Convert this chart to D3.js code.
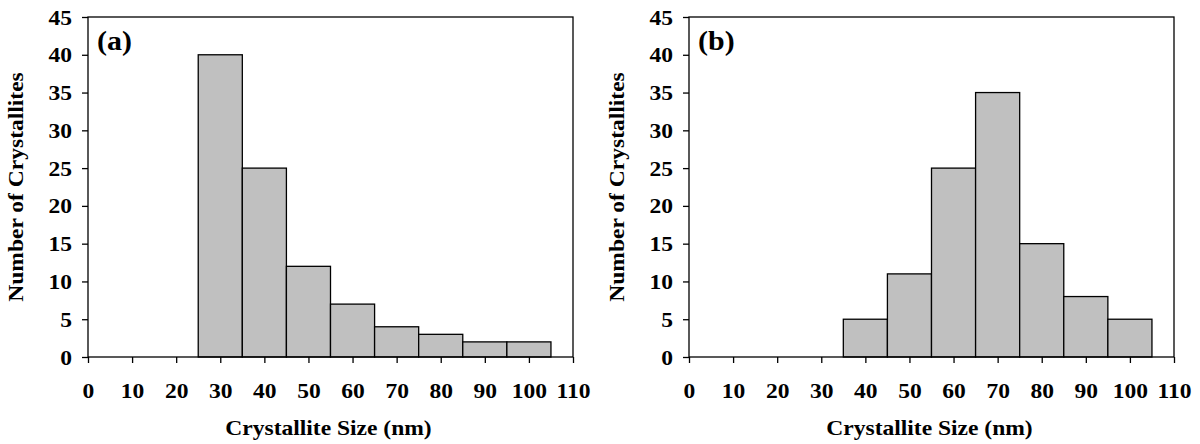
<!DOCTYPE html>
<html>
<head>
<meta charset="utf-8">
<script src="https://cdn.jsdelivr.net/npm/d3@7"></script>
<style>
    html, body { margin: 0; padding: 0; background: #fff; }
    svg text { font-family: "Liberation Serif", "Times New Roman", serif; font-weight: bold; fill: #000; }
    .domain { display: none; }
</style>
</head>
<body>
<svg id="chart" width="1200" height="444"></svg>
<script>
// bin centres (nm), bins are 10 nm wide
const binCenters = [30, 40, 50, 60, 70, 80, 90, 100];
const countsA = [40, 25, 12, 7, 4, 3, 2, 2];
const countsB = [0, 5, 11, 25, 35, 15, 8, 5];
const xTicks = [0, 10, 20, 30, 40, 50, 60, 70, 80, 90, 100, 110];
const yTicks = [0, 5, 10, 15, 20, 25, 30, 35, 40, 45];
const panelLabels = ['(a)', '(b)'];

const svg = d3.select('#chart');
const FONT = '22px';
const STRETCH = 1.07; // reference type is a little wider than Times

function drawPanel(left, counts, label) {
    const W = 485, TOP = 17, BOTTOM = 357;
    const g = svg.append('g');

    const x = d3.scaleLinear().domain([0, 110]).range([left, left + W]);
    const y = d3.scaleLinear().domain([0, 45]).range([BOTTOM, TOP]);

    // bars
    g.append('g').selectAll('rect')
        .data(binCenters.map((c, i) => ({ c, v: counts[i] })).filter(d => d.v > 0))
        .enter()
        .append('rect')
        .attr('x', d => x(d.c - 5))
        .attr('width', d => x(d.c + 5) - x(d.c - 5))
        .attr('y', d => y(d.v))
        .attr('height', d => y(0) - y(d.v))
        .attr('fill', '#c0c0c0')
        .attr('stroke', '#000')
        .attr('stroke-width', 1.3);

    // frame
    g.append('rect')
        .attr('x', x(0)).attr('y', y(45))
        .attr('width', x(110) - x(0)).attr('height', y(0) - y(45))
        .attr('fill', 'none').attr('stroke', '#000').attr('stroke-width', 1.3);

    // X AXIS
    g.append('g')
        .attr('transform', `translate(0, ${BOTTOM})`)
        .call(d3.axisBottom(x).tickValues(xTicks).tickSize(6).tickPadding(19).tickSizeOuter(0))
        .call(a => a.selectAll('text').style('font-size', FONT).attr('font-family', null)
            .attr('transform', `scale(${STRETCH},1)`))
        .call(a => a.selectAll('line').attr('stroke-width', 1.3));

    // Y AXIS
    g.append('g')
        .attr('transform', `translate(${x(0)}, 0)`)
        .call(d3.axisLeft(y).tickValues(yTicks).tickSize(6).tickPadding(10).tickSizeOuter(0))
        .call(a => a.selectAll('text').style('font-size', FONT).attr('font-family', null)
            .attr('x', 0).attr('transform', `translate(-16,0) scale(${STRETCH},1)`))
        .call(a => a.selectAll('line').attr('stroke-width', 1.3));

    // titles
    g.append('text')
        .attr('transform', `translate(${(x(0) + x(110)) / 2 - 2}, 435) scale(${STRETCH},1)`)
        .attr('text-anchor', 'middle')
        .style('font-size', FONT)
        .text('Crystallite Size (nm)');

    g.append('text')
        .attr('transform', `translate(${left - 65}, ${(TOP + BOTTOM) / 2}) rotate(-90) scale(${STRETCH},1)`)
        .attr('text-anchor', 'middle')
        .style('font-size', FONT)
        .text('Number of Crystallites');

    g.append('text')
        .attr('transform', `translate(${x(0) + 9}, 50) scale(${STRETCH},1)`)
        .style('font-size', '28px')
        .text(label);
}

drawPanel(88, countsA, panelLabels[0]);
drawPanel(689, countsB, panelLabels[1]);
</script>
</body>
</html>
